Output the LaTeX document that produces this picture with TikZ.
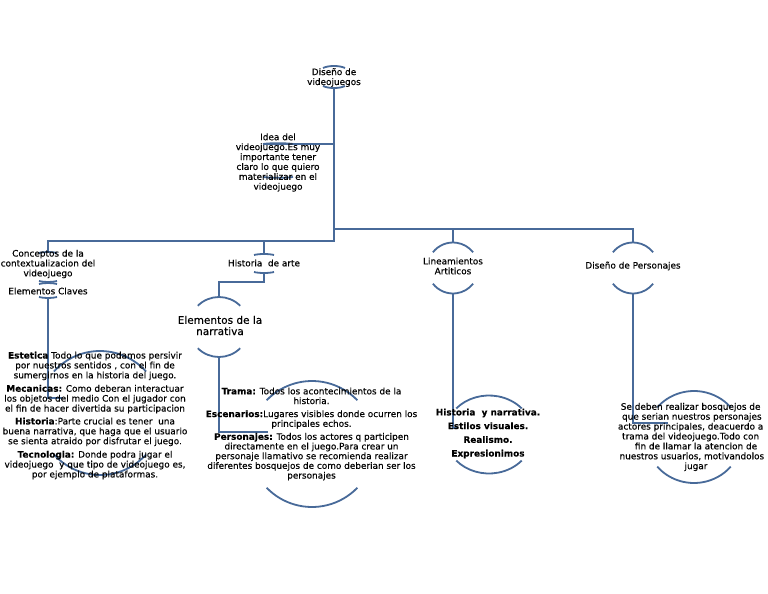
\documentclass[tikz,border=0pt]{standalone}
\usepackage{fontspec}
\setmainfont{DejaVu Sans}[FakeBold=0.3]
\definecolor{lnc}{RGB}{72,106,153}
\tikzset{
  ln/.style={draw=lnc, line width=1.8pt},
  txt/.style={inner sep=0pt, align=center, text=black, font=\fontsize{8.9}{9.9}\selectfont},
  bigtxt/.style={inner sep=0pt, align=center, text=black, font=\fontsize{10.5}{11.2}\selectfont},
  boldtxt/.style={inner sep=0pt, align=center, text=black, font=\bfseries\fontsize{8.9}{13.7}\selectfont}
}
\newcommand{\flatarcs}[6]{%
  \draw[ln] ({#1-#3},{#2-#4}) .. controls ({#1-#3/2},{#2-#4-#6*4/3}) and ({#1+#3/2},{#2-#4-#6*4/3}) .. ({#1+#3},{#2-#4});
  \draw[ln] ({#1-#3},{#2+#5}) .. controls ({#1-#3/2},{#2+#5+#6*4/3}) and ({#1+#3/2},{#2+#5+#6*4/3}) .. ({#1+#3},{#2+#5});
}
\newcommand{\ovarcs}[5]{%
  \draw[ln] ({#1-#3*sin(#5)},{#2-#4*cos(#5)}) arc[start angle={90+#5}, end angle={90-#5}, x radius=#3pt, y radius=#4pt];
  \draw[ln] ({#1-#3*sin(#5)},{#2+#4*cos(#5)}) arc[start angle={270-#5}, end angle={270+#5}, x radius=#3pt, y radius=#4pt];
}
\begin{document}
\begin{tikzpicture}[x=1pt,y=-1pt]
\useasboundingbox (0,0) rectangle (768,594);
\clip (0,0) rectangle (768,594);
\fill[white] (0,0) rectangle (768,594);

% connection points
\coordinate (rootB) at (334,88);
\coordinate (trunkE) at (334,242);
\coordinate (ideaJ) at (334,144);
\coordinate (ideaL) at (263,144);
\coordinate (busR) at (334,229);
\coordinate (busL) at (334,241);
\coordinate (linT) at (453,242.5);
\coordinate (dpT) at (633,242.5);
\coordinate (concT) at (48,253);
\coordinate (haJ) at (264,241);
\coordinate (haT) at (264,255);
\coordinate (haB) at (264,272);
\coordinate (haK) at (264,282);
\coordinate (narT) at (219,297);
\coordinate (concB) at (48,281);
\coordinate (ecT) at (48,284);
\coordinate (ecB) at (48,297);
\coordinate (estL) at (62,398);
\coordinate (narB) at (219,357);
\coordinate (tramaL) at (268,432);
\coordinate (linB) at (453,293.5);
\coordinate (hynL) at (458,428);
\coordinate (dpB) at (633,293.5);
\coordinate (pdL) at (668,423);

% connectors
\draw[ln] (rootB) -- (trunkE);
\draw[ln] (ideaJ) -- (ideaL);
\draw[ln] (busR) -| (linT);
\draw[ln] (busR) -| (dpT);
\draw[ln] (busL) -| (concT);
\draw[ln] (haJ) -- (haT);
\draw[ln] (haB) -- (haK) -| (narT);
\draw[ln] (concB) -- (ecT);
\draw[ln] (ecB) |- (estL);
\draw[ln] (narB) |- (tramaL);
\draw[ln] (linB) |- (hynL);
\draw[ln] (dpB) |- (pdL);

% arcs of the circles
\flatarcs{334}{77}{11}{9}{9}{2}
\flatarcs{278}{160.5}{15}{16.5}{16.5}{0.8}
\flatarcs{48}{267}{9}{14}{14}{1}
\flatarcs{48}{290.5}{9}{6.5}{6.5}{1}
\flatarcs{264}{263.5}{10}{8.5}{8.5}{1}
\ovarcs{219}{327}{30}{30}{45}
\ovarcs{453}{268}{25.5}{25.5}{52}
\ovarcs{633}{268}{25.5}{25.5}{52}
\ovarcs{312}{444}{63}{63}{46}
\ovarcs{489}{434.5}{44}{39}{48}
\ovarcs{694}{437}{48}{46}{50}
\ovarcs{100}{413}{62}{62}{48}

% texts
\node[txt] (root) at (334,77.5) {Diseño de\\videojuegos};
\node[txt] (idea) at (278,162.5) {Idea del\\videojuego.Es muy\\importante tener\\claro lo que quiero\\materializar en el\\videojuego};
\node[txt] (conc) at (48,264) {Conceptos de la\\contextualizacion del\\videojuego};
\node[txt] (ec) at (48,291) {Elementos Claves};
\node[txt] (ha) at (264,263) {Historia\ \ de arte};
\node[bigtxt] (nar) at (220,325.5) {Elementos de la\\narrativa};
\node[txt] (lin) at (453,266) {Lineamientos\\Artiticos};
\node[txt] (dp) at (633,266) {Diseño de Personajes};
\node[txt] (est) at (95,415.5) {{\bfseries Estetica} Todo lo que podamos persivir\\
por nuestros sentidos , con el fin de\\
sumergirnos en la historia del juego.\\[3.5pt]
{\bfseries Mecanicas:} Como deberan interactuar\\
los objetos del medio Con el jugador con\\
el fin de hacer divertida su participacion\\[3pt]
{\bfseries Historia}:Parte crucial es tener\ \ una\\
buena narrativa, que haga que el usuario\\
se sienta atraido por disfrutar el juego.\\[3.5pt]
{\bfseries Tecnologia:} Donde podra jugar el\\
videojuego\ \ y que tipo de videojuego es,\\
por ejemplo de plataformas.};
\node[txt, font=\fontsize{8.9}{9.7}\selectfont] (trama) at (311.5,434) {{\bfseries Trama:} Todos los acontecimientos de la\\
historia.\\[3.3pt]
{\bfseries Escenarios:}Lugares visibles donde ocurren los\\
principales echos.\\[3.3pt]
{\bfseries Personajes:} Todos los actores q participen\\
directamente en el juego.Para crear un\\
personaje llamativo se recomienda realizar\\
diferentes bosquejos de como deberian ser los\\
personajes};
\node[boldtxt] (hyn) at (488,433.5) {Historia\ \ y narrativa.\\Estilos visuales.\\Realismo.\\Expresionimos};
\node[txt] (pd) at (696,437) {Se deben realizar bosquejos de\phantom{ lo}\\
que serian nuestros personajes\phantom{ o}\\
actores principales, deacuerdo a\phantom{ la}\\
trama del videojuego.Todo con\phantom{ el}\\
fin de llamar la atencion de\\
nuestros usuarios, motivandolos\phantom{ a}\\
jugar};
\end{tikzpicture}
\end{document}
